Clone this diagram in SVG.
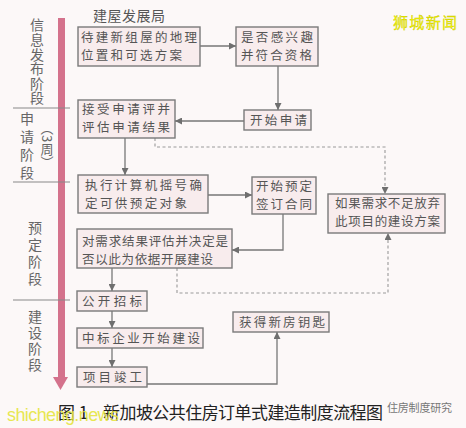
<svg xmlns="http://www.w3.org/2000/svg" width="466" height="428" viewBox="0 0 466 428">
<style>
.bg{fill:#fcf8f8}
.box{fill:#f8eced;stroke:#7a7a7a;stroke-width:1.4}
.t{font-family:"Noto Sans CJK SC","Noto Sans CJK JP",sans-serif;font-size:12.5px;fill:#555}
.st{font-family:"Noto Sans CJK SC","Noto Sans CJK JP",sans-serif;font-size:14px;fill:#666;writing-mode:vertical-rl}
.ln{fill:none;stroke:#777;stroke-width:1.3}
.dl{fill:none;stroke:#999;stroke-width:1.1;stroke-dasharray:3 2.5}
.sep{stroke:#888;stroke-width:1}
</style>
<defs>
<marker id="ar" viewBox="0 0 10 10" refX="10" refY="5" markerWidth="7" markerHeight="7" markerUnits="userSpaceOnUse" orient="auto"><path d="M0,0 L10,5 L0,10 Z" fill="#6f6f6f"/></marker>
</defs>
<rect class="bg" x="0" y="0" width="466" height="428"/>

<g id="stage-bar">
<rect x="58" y="18" width="7" height="360" fill="#d4728c"/>
<path d="M53,377 L68,377 L60.5,390 Z" fill="#d4728c"/>
<line class="sep" x1="13" y1="108" x2="70" y2="108"/>
<line class="sep" x1="13" y1="182" x2="70" y2="182"/>
<line class="sep" x1="13" y1="300" x2="70" y2="300"/>
<text class="st" x="37" y="18" style="letter-spacing:0.6px">信息发布阶段</text>
<text class="st" x="27" y="112" style="letter-spacing:4px">申请阶段</text>
<text class="st" x="47" y="122" style="font-size:13px">（3周）</text>
<text class="st" x="35" y="221" style="letter-spacing:3px">预定阶段</text>
<text class="st" x="35" y="310" style="letter-spacing:2px">建设阶段</text>
</g>

<text class="t" x="93" y="21" textLength="72" style="font-size:14px">建屋发展局</text>

<g id="connectors">
<line class="ln" x1="200" y1="46" x2="236" y2="46" marker-end="url(#ar)"/>
<line class="ln" x1="278" y1="66" x2="278" y2="110" marker-end="url(#ar)"/>
<line class="ln" x1="244" y1="121" x2="175" y2="121" marker-end="url(#ar)"/>
<line class="ln" x1="125" y1="138" x2="125" y2="175" marker-end="url(#ar)"/>
<line class="ln" x1="208" y1="195" x2="252" y2="195" marker-end="url(#ar)"/>
<path class="ln" d="M283,214 V250 H232" marker-end="url(#ar)"/>
<path class="dl" d="M155,138 V147 H385 V194" marker-end="url(#ar)"/>
<path class="dl" d="M177,268 V293 H388 V233" marker-end="url(#ar)"/>
<line class="ln" x1="112" y1="268" x2="112" y2="291" marker-end="url(#ar)"/>
<line class="ln" x1="112" y1="311" x2="112" y2="328" marker-end="url(#ar)"/>
<line class="ln" x1="112" y1="348" x2="112" y2="367" marker-end="url(#ar)"/>
<path class="ln" d="M147,384 H277 V332" marker-end="url(#ar)"/>
</g>

<g id="n1"><rect class="box" x="78" y="27" width="122" height="39"/>
<text class="t" x="81" y="42" textLength="116">待建新组屋的地理</text>
<text class="t" x="81" y="60" textLength="101">位置和可选方案</text></g>
<g id="n2"><rect class="box" x="236" y="27" width="82" height="39"/>
<text class="t" x="241" y="42" textLength="72">是否感兴趣</text>
<text class="t" x="241" y="60" textLength="71">并符合资格</text></g>
<g id="n3"><rect class="box" x="244" y="110" width="67" height="20"/>
<text class="t" x="250" y="125" textLength="57">开始申请</text></g>
<g id="n4"><rect class="box" x="78" y="100" width="97" height="38"/>
<text class="t" x="82" y="114" textLength="88">接受申请评并</text>
<text class="t" x="82" y="132" textLength="88">评估申请结果</text></g>
<g id="n5"><rect class="box" x="78" y="175" width="130" height="38"/>
<text class="t" x="85" y="190" textLength="117">执行计算机摇号确</text>
<text class="t" x="85" y="208" textLength="102">定可供预定对象</text></g>
<g id="n6"><rect class="box" x="252" y="177" width="64" height="37"/>
<text class="t" x="256" y="191" textLength="56">开始预定</text>
<text class="t" x="256" y="209" textLength="56">签订合同</text></g>
<g id="n7"><rect class="box" x="328" y="194" width="117" height="39"/>
<text class="t" x="335" y="208" textLength="105">如果需求不足放弃</text>
<text class="t" x="335" y="226" textLength="105">此项目的建设方案</text></g>
<g id="n8"><rect class="box" x="77" y="229" width="155" height="39"/>
<text class="t" x="82" y="246" textLength="146">对需求结果评估并决定是</text>
<text class="t" x="82" y="264" textLength="131">否以此为依据开展建设</text></g>
<g id="n9"><rect class="box" x="77" y="291" width="70" height="20"/>
<text class="t" x="82" y="306" textLength="60">公开招标</text></g>
<g id="n10"><rect class="box" x="77" y="328" width="126" height="20"/>
<text class="t" x="82" y="343" textLength="118">中标企业开始建设</text></g>
<g id="n11"><rect class="box" x="77" y="367" width="70" height="20"/>
<text class="t" x="83" y="382" textLength="59">项目竣工</text></g>
<g id="n12"><rect class="box" x="233" y="312" width="96" height="20"/>
<text class="t" x="239" y="327" textLength="86">获得新房钥匙</text></g>

<g id="caption">
<text x="58" y="419" style="font-family:'Noto Sans CJK SC',sans-serif;font-size:17px;fill:#222">图 1</text>
<text x="103" y="419" textLength="280" style="font-family:'Noto Sans CJK SC',sans-serif;font-size:17px;fill:#222">新加坡公共住房订单式建造制度流程图</text>
</g>

<g id="watermarks">
<text x="393" y="28" textLength="64" style="font-family:'Noto Sans CJK SC',sans-serif;font-size:15px;fill:#f2f200;stroke:#c8c800;stroke-width:0.3">狮城新闻</text>
<text x="7" y="421" textLength="112" style="font-family:'Liberation Sans',sans-serif;font-size:18px;fill:#e6e640;opacity:0.9">shicheng.news</text>
<text x="387" y="412" textLength="65" style="font-family:'Noto Sans CJK SC',sans-serif;font-size:11px;fill:#777">住房制度研究</text>
</g>
</svg>
